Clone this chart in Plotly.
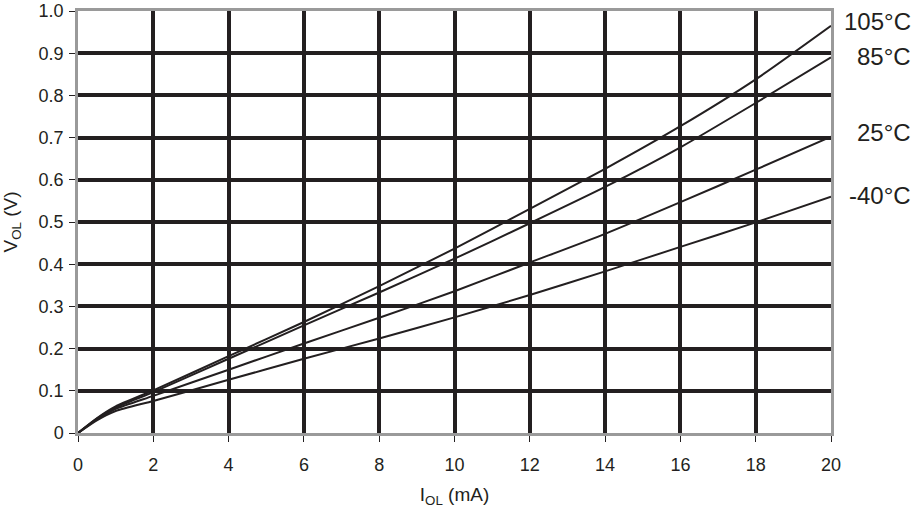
import plotly.graph_objects as go

i_ol = [0, 0.5, 1, 2, 4, 6, 8, 10, 12, 14, 16, 18, 20]
v_105 = [0, 0.035, 0.063, 0.101, 0.182, 0.263, 0.348, 0.437, 0.531, 0.626, 0.727, 0.838, 0.965]
v_85 = [0, 0.034, 0.060, 0.097, 0.176, 0.255, 0.333, 0.413, 0.497, 0.583, 0.677, 0.782, 0.890]
v_25 = [0, 0.032, 0.057, 0.088, 0.150, 0.212, 0.273, 0.336, 0.404, 0.472, 0.547, 0.624, 0.702]
v_m40 = [0, 0.030, 0.052, 0.076, 0.126, 0.176, 0.224, 0.274, 0.327, 0.383, 0.441, 0.499, 0.560]

series = [("105°C", v_105), ("85°C", v_85), ("25°C", v_25), ("-40°C", v_m40)]
label_y = [0.974, 0.893, 0.713, 0.563]

x_ticks = list(range(0, 21, 2))
y_ticks = [0, 0.1, 0.2, 0.3, 0.4, 0.5, 0.6, 0.7, 0.8, 0.9, 1.0]
y_ticktext = ["0", "0.1", "0.2", "0.3", "0.4", "0.5", "0.6", "0.7", "0.8", "0.9", "1.0"]

ink = "#231f20"
gray = "#9a9a9a"
font = "Liberation Sans, Arial, Helvetica, sans-serif"

fig = go.Figure()
for name, vals in series:
    fig.add_trace(go.Scatter(x=i_ol, y=vals, mode="lines", name=name,
                             line=dict(color=ink, width=2, shape="spline", smoothing=0.6),
                             showlegend=False, hoverinfo="skip"))

for (name, _), ly in zip(series, label_y):
    fig.add_annotation(x=1.0, y=ly, xref="paper", yref="y", text=name, showarrow=False,
                       xanchor="right", yanchor="middle", xshift=82,
                       font=dict(size=24, color=ink, family=font))

fig.update_layout(
    width=914, height=514,
    margin=dict(l=78, r=83, t=11, b=81, autoexpand=False),
    plot_bgcolor="white", paper_bgcolor="white",
    font=dict(family=font, color=ink, size=18),
    xaxis=dict(range=[0, 20], tickvals=x_ticks, showgrid=True, gridcolor=ink, gridwidth=3.5,
               zeroline=False, showline=True, linecolor=gray, linewidth=2.5, mirror=True,
               ticks="outside", ticklen=6, tickcolor=ink, tickwidth=1, automargin=False,
               ticklabelstandoff=8, tickfont=dict(size=18, color=ink),
               title=dict(text="I<sub>OL</sub> (mA)", font=dict(size=19, color=ink), standoff=14)),
    yaxis=dict(range=[0, 1.0], tickvals=y_ticks, ticktext=y_ticktext, showgrid=True,
               gridcolor=ink, gridwidth=3.5, zeroline=False, showline=True, linecolor=gray,
               linewidth=2.5, mirror=True, ticks="outside", ticklen=6, tickcolor=ink, tickwidth=1,
               automargin=False, ticklabelstandoff=2, tickfont=dict(size=18, color=ink),
               title=dict(text="V<sub>OL</sub> (V)", font=dict(size=19, color=ink), standoff=16)),
)

fig.write_html("out.html", config={"displayModeBar": False},
               post_script="document.body.style.margin='0px';")
